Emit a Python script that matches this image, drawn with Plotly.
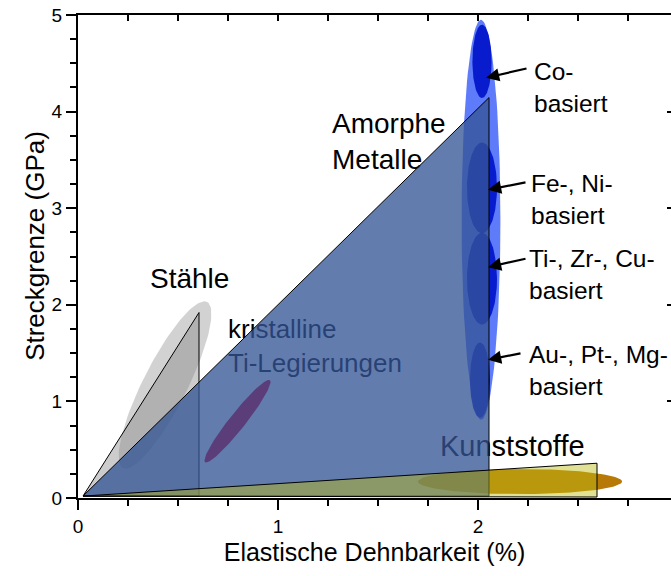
import numpy as np
import plotly.graph_objects as go

# ---------------- data ----------------
# x: elastic strain (%), y: yield strength (GPa)

# envelope ellipse of the amorphous metals (centre, half-width, half-height)
env_cx, env_cy, env_rx, env_ry = 2.015, 2.88, 0.097, 2.07

# amorphous metal families (axis-aligned ellipses)
amorph_names = ["Co-<br>basiert", "Fe-, Ni-<br>basiert", "Ti-, Zr-, Cu-<br>basiert", "Au-, Pt-, Mg-<br>basiert"]
amorph_cx = [2.02, 2.02, 2.02, 2.01]
amorph_cy = [4.52, 3.21, 2.27, 1.22]
amorph_rx = [0.048, 0.075, 0.075, 0.05]
amorph_ry = [0.38, 0.47, 0.475, 0.39]

# labels of the families and their arrows
amorph_label_x = [2.27, 2.255, 2.245, 2.245]
amorph_label_y = [4.245, 3.085, 2.31, 1.325]
arrow_head_x = [2.04, 2.05, 2.05, 2.05]
arrow_head_y = [4.35, 3.19, 2.39, 1.43]
arrow_tail_x = [2.25, 2.245, 2.245, 2.22]
arrow_tail_y = [4.45, 3.27, 2.48, 1.50]

# polymers ellipse
poly_cx, poly_cy, poly_rx, poly_ry = 2.21, 0.17, 0.51, 0.13

# rotated ellipses given by the two ends of their long axis
steel_ell_x = [0.225, 0.645]
steel_ell_y = [0.31, 2.03]
ti_ell_x = [0.635, 0.96]
ti_ell_y = [0.37, 1.22]

# triangles (origin, top, foot)
steel_tri_x = [0.025, 0.605, 0.605]
steel_tri_y = [0.02, 1.92, 0.02]
amorph_tri_x = [0.025, 2.055, 2.055]
amorph_tri_y = [0.02, 4.145, 0.02]
polymer_tri_x = [0.025, 2.595, 2.595]
polymer_tri_y = [0.02, 0.36, 0.01]

# class labels
class_text = ["Stähle", "kristalline<br>Ti-Legierungen", "Amorphe<br>Metalle", "Kunststoffe"]
class_x = [0.36, 0.75, 1.27, 1.81]
class_y = [2.25, 1.55, 3.665, 0.51]

x_ticks = [0, 1, 2]
y_ticks = [0, 1, 2, 3, 4, 5]
X_RANGE = [0, 2.965]
Y_RANGE = [0, 5]
X_TITLE = "Elastische Dehnbarkeit (%)"
Y_TITLE = "Streckgrenze (GPa)"

# ---------------- layout geometry ----------------
W, H = 671, 576
ML, MR, MT, MB = 78, 0, 15, 78
PW, PH = W - ML - MR, H - MT - MB
sx = PW / (X_RANGE[1] - X_RANGE[0])  # px per x unit
sy = PH / (Y_RANGE[1] - Y_RANGE[0])  # px per y unit
T = np.linspace(0, 2 * np.pi, 120)
FONT = "Liberation Sans, Arial, sans-serif"


def ellipse(cx, cy, rx, ry):
    return cx + rx * np.cos(T), cy + ry * np.sin(T)


def rot_ellipse(xs, ys, half_w_px):
    p1 = np.array([xs[0] * sx, ys[0] * sy])
    p2 = np.array([xs[1] * sx, ys[1] * sy])
    c = (p1 + p2) / 2
    u = (p2 - p1) / 2
    v = np.array([-u[1], u[0]]) / np.linalg.norm(u) * half_w_px
    px = c[0] + np.cos(T) * u[0] + np.sin(T) * v[0]
    py = c[1] + np.cos(T) * u[1] + np.sin(T) * v[1]
    return px / sx, py / sy


def region(x, y, fill, line_color=None, line_w=0):
    return go.Scatter(
        x=list(x), y=list(y), mode="lines", fill="toself", fillcolor=fill,
        line=dict(color=line_color or "rgba(0,0,0,0)", width=line_w),
        hoverinfo="skip", showlegend=False,
    )


def closed(xs, ys):
    return list(xs) + [xs[0]], list(ys) + [ys[0]]


fig = go.Figure()

# envelope and family ellipses of amorphous metals
ex, ey = ellipse(env_cx, env_cy, env_rx, env_ry)
fig.add_trace(region(ex, ey, "rgba(80,112,250,0.92)"))
for cx, cy, rx, ry in zip(amorph_cx, amorph_cy, amorph_rx, amorph_ry):
    ex, ey = ellipse(cx, cy, rx, ry)
    fig.add_trace(region(ex, ey, "rgba(0,18,200,0.9)"))

# steel ellipse
ex, ey = rot_ellipse(steel_ell_x, steel_ell_y, 22)
fig.add_trace(region(ex, ey, "rgba(205,205,205,0.9)"))

# polymer ellipse
ex, ey = ellipse(poly_cx, poly_cy, poly_rx, poly_ry)
fig.add_trace(region(ex, ey, "rgba(184,122,6,1)"))

# class labels (below the translucent triangles)
fig.add_trace(go.Scatter(
    x=class_x, y=class_y, mode="text", text=class_text,
    textposition="middle right",
    textfont=dict(family=FONT, size=[28, 26, 28, 29], color="black"),
    hoverinfo="skip", showlegend=False,
))

# triangles
tx, ty = closed(steel_tri_x, steel_tri_y)
fig.add_trace(region(tx, ty, "rgba(128,128,128,0.4)", "black", 1))
tx, ty = closed(amorph_tri_x, amorph_tri_y)
fig.add_trace(region(tx, ty, "rgba(52,85,150,0.77)", "black", 1))

# crystalline Ti alloys ellipse
ex, ey = rot_ellipse(ti_ell_x, ti_ell_y, 8)
fig.add_trace(region(ex, ey, "rgba(88,50,112,0.85)"))

tx, ty = closed(polymer_tri_x, polymer_tri_y)
fig.add_trace(region(tx, ty, "rgba(189,189,22,0.45)", "black", 1))

# invisible trace for the top / right frame axes
fig.add_trace(go.Scatter(x=[None], y=[None], xaxis="x2", yaxis="y2",
                         showlegend=False, hoverinfo="skip"))

annotations = []
for txt, lx, ly in zip(amorph_names, amorph_label_x, amorph_label_y):
    annotations.append(dict(
        x=lx, y=ly, xref="x", yref="y", text=txt, showarrow=False,
        xanchor="left", yanchor="middle", align="left",
        font=dict(family=FONT, size=24.5, color="black"),
    ))
for hx, hy, tx_, ty_ in zip(arrow_head_x, arrow_head_y, arrow_tail_x, arrow_tail_y):
    annotations.append(dict(
        x=hx, y=hy, ax=tx_, ay=ty_, xref="x", yref="y", axref="x", ayref="y",
        text="", showarrow=True, arrowhead=2, arrowsize=1.2, arrowwidth=2.2,
        arrowcolor="black",
    ))
# y-axis title (placed slightly above the axis centre, as in the original)
annotations.append(dict(
    x=-43 / PW, y=0.522, xref="paper", yref="paper", text=Y_TITLE,
    textangle=-90, showarrow=False, xanchor="center", yanchor="middle",
    font=dict(family=FONT, size=26, color="black"),
))

fig.update_layout(
    width=W, height=H,
    margin=dict(l=ML, r=MR, t=MT, b=MB, autoexpand=False),
    paper_bgcolor="white", plot_bgcolor="white",
    showlegend=False,
    font=dict(family=FONT, color="black"),
    annotations=annotations,
    xaxis=dict(
        range=X_RANGE, tickvals=x_ticks, ticks="outside", ticklen=10,
        tickwidth=1.5, tickcolor="black", showline=True, linecolor="black",
        linewidth=2, mirror=True, showgrid=False, zeroline=False,
        automargin=False, ticklabeloverflow="allow",
        tickfont=dict(size=19, family=FONT, color="black"),
        minor=dict(dtick=0.25, tick0=0, ticks="outside", ticklen=6,
                   tickwidth=1.5, tickcolor="black", showgrid=False),
        title=dict(text=X_TITLE, standoff=8,
                   font=dict(size=25, family=FONT, color="black")),
    ),
    yaxis=dict(
        range=Y_RANGE, tickvals=y_ticks, ticks="outside", ticklen=10,
        tickwidth=1.5, tickcolor="black", showline=True, linecolor="black",
        linewidth=2, showgrid=False, zeroline=False, automargin=False,
        ticklabeloverflow="allow",
        tickfont=dict(size=19, family=FONT, color="black"),
        minor=dict(dtick=0.25, tick0=0, ticks="outside", ticklen=6,
                   tickwidth=1.5, tickcolor="black", showgrid=False),
    ),
    xaxis2=dict(
        range=X_RANGE, overlaying="x", side="top", dtick=0.25, tick0=0,
        ticks="inside", ticklen=6, tickwidth=1.5, tickcolor="black",
        showticklabels=False, showline=True, linecolor="black", linewidth=1.5,
        showgrid=False, zeroline=False, automargin=False,
    ),
    yaxis2=dict(
        range=Y_RANGE, overlaying="y", side="right", dtick=1, tick0=0,
        ticks="inside", ticklen=4, tickwidth=1.5, tickcolor="black",
        showticklabels=False, showline=False, showgrid=False, zeroline=False,
        automargin=False,
    ),
)

# remove the browser's default 8 px body margin so the figure fills the window
fig.write_html("out.html", config={"displayModeBar": False},
               post_script="document.body.style.margin='0';")
